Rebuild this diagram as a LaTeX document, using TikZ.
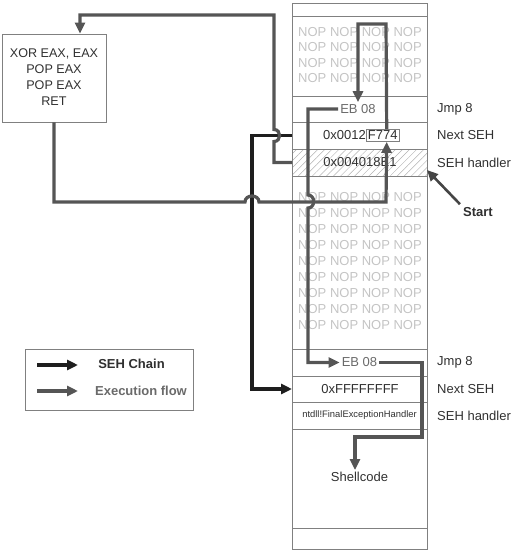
\documentclass[tikz,border=0pt]{standalone}
\usepackage{fontspec}
\setmainfont{Liberation Sans}
\usetikzlibrary{arrows.meta,patterns.meta}
\definecolor{flow}{HTML}{555555}
\definecolor{chain}{HTML}{1E1E1E}
\definecolor{frame}{HTML}{808080}
\definecolor{noptext}{HTML}{C4C4C4}
\definecolor{darktext}{HTML}{303030}
\definecolor{midtext}{HTML}{6A6A6A}
\begin{document}
\begin{tikzpicture}[x=1pt,y=-1pt,
  font=\fontsize{13}{15.5}\selectfont,
  cell/.style={draw=frame, line width=0.8pt, minimum width=135pt, inner sep=0pt, outer sep=0pt},
  flowline/.style={draw=flow, line width=3.2pt},
  chainline/.style={draw=chain, line width=3.2pt},
  tip/.style={-{Triangle[length=11pt,width=10pt]}},
  lbl/.style={anchor=west, text=darktext, inner sep=0pt},
  txt/.style={inner sep=2pt},
]
\useasboundingbox (0,0) rectangle (517,552);

% stack cells
\node[cell, minimum height=13pt] (top) at (359.5,9.5) {};
\node[cell, minimum height=80pt] (nop1) at (359.5,56) {};
\node[cell, minimum height=26pt] (eb1) at (359.5,109) {};
\node[cell, minimum height=27pt] (nseh1) at (359.5,135.5) {};
\node[cell, minimum height=27pt, pattern={Lines[angle=45,distance=5pt,line width=0.5pt]}, pattern color=gray!60] (seh1) at (359.5,162.5) {};
\node[cell, minimum height=173pt] (nop2) at (359.5,262.5) {};
\node[cell, minimum height=27pt] (eb2) at (359.5,362.5) {};
\node[cell, minimum height=26pt] (nseh2) at (359.5,389) {};
\node[cell, minimum height=27pt] (seh2) at (359.5,415.5) {};
\node[cell, minimum height=99pt] (shellcell) at (359.5,478.5) {};
\node[cell, minimum height=21pt] (bottom) at (359.5,538.5) {};

% stack texts
\node[text=noptext, align=center, font=\fontsize{13}{15.3}\selectfont] (noptxt1) at (360,55) {NOP NOP NOP NOP\\NOP NOP NOP NOP\\NOP NOP NOP NOP\\NOP NOP NOP NOP};
\node[text=noptext, align=center, font=\fontsize{13}{16}\selectfont] (noptxt2) at (360,261.5) {NOP NOP NOP NOP\\NOP NOP NOP NOP\\NOP NOP NOP NOP\\NOP NOP NOP NOP\\NOP NOP NOP NOP\\NOP NOP NOP NOP\\NOP NOP NOP NOP\\NOP NOP NOP NOP\\NOP NOP NOP NOP};
\node[txt, text=midtext] (eb1t) at (358,109) {EB 08};
\node[txt, text=darktext, anchor=east, inner sep=0pt] (addrA) at (366,135.5) {0x0012};
\node[anchor=west, draw=frame, line width=0.8pt, inner sep=1.5pt, text=darktext] (f774) at (366,135.5) {F774};
\node[txt, text=darktext] (sehaddr) at (360,162.5) {0x004018E1};
\node[txt, text=midtext] (eb2t) at (359.5,362.5) {EB 08};
\node[txt, text=darktext] (ffff) at (360,389) {0xFFFFFFFF};
\node[txt, text=darktext, font=\fontsize{9.4}{11}\selectfont] (final) at (359.5,415.5) {ntdll!FinalExceptionHandler};
\node[txt, text=darktext] (shell) at (359.5,477) {Shellcode};

% right labels
\node[lbl] (jmp1) at (437,109) {Jmp 8};
\node[lbl] (nsl1) at (437,135.5) {Next SEH};
\node[lbl] (shl1) at (437,162.5) {SEH handler};
\node[lbl] (jmp2) at (437,362.5) {Jmp 8};
\node[lbl] (nsl2) at (437,389) {Next SEH};
\node[lbl] (shl2) at (437,415.5) {SEH handler};
\node[txt, text=darktext, font=\fontsize{13}{15.5}\selectfont\bfseries] (start) at (478,212) {Start};

% gadget box
\node[draw=frame, line width=0.8pt, minimum width=104pt, minimum height=88pt, inner sep=0pt] (gadget) at (54,78) {};
\node[text=darktext, align=center, font=\fontsize{12.6}{16}\selectfont] (gadtxt) at (54,77) {XOR EAX, EAX\\POP EAX\\POP EAX\\RET};

% legend
\node[draw=frame, line width=0.8pt, minimum width=168pt, minimum height=61pt, inner sep=0pt] (legend) at (109,379.5) {};
\coordinate (lc1) at (37,365);
\coordinate (lc2) at (78,365);
\coordinate (lf1) at (37,391);
\coordinate (lf2) at (78,391);
\draw[chainline, tip] (lc1) -- (lc2);
\draw[flowline, tip] (lf1) -- (lf2);
\node[text=darktext, font=\fontsize{13}{15.5}\selectfont\bfseries] (legchain) at (131.5,364) {SEH Chain};
\node[text=midtext, font=\fontsize{13}{15.5}\selectfont\bfseries] (legflow) at (141,391) {Execution flow};

% SEH chain
\draw[chainline, tip] (nseh1.west) -- (252,135.5) -- (252,389) -- (nseh2.west);

% execution flow
\draw[flowline, tip] (seh1.west) -- (274,162.5) -- (274,141.5)
  .. controls (281.5,141.5) and (281.5,129.5) .. (274,129.5)
  -- (274,15) -| ([xshift=26pt]gadget.north);
\draw[flowline, tip] (gadget.south) -- (54,202) -- (245,202)
  .. controls (245,194) and (259,194) .. (259,202)
  -- (386,202) -- ([xshift=4pt]f774.south);
\draw[flowline, tip] ([xshift=4pt]f774.north) -- (386,24) -- (358,24) -- (eb1t.north);
\draw[flowline, tip] (eb1t.west) -- (308,109) -- (308,195)
  .. controls (315.5,195) and (315.5,208) .. (308,208)
  -- (308,362.5) -- (eb2t.west);
\draw[flowline, tip] (eb2t.east) -- (422,362.5) -- (422,437) -- (355,437) -- ([xshift=-4.5pt]shell.north);

% start arrow
\draw[draw=darktext!90, line width=2.6pt, -{Triangle[length=11pt,width=10pt]}] ([xshift=-1pt,yshift=1pt]start.north west) -- ([yshift=6pt]seh1.south east);
\end{tikzpicture}
\end{document}
